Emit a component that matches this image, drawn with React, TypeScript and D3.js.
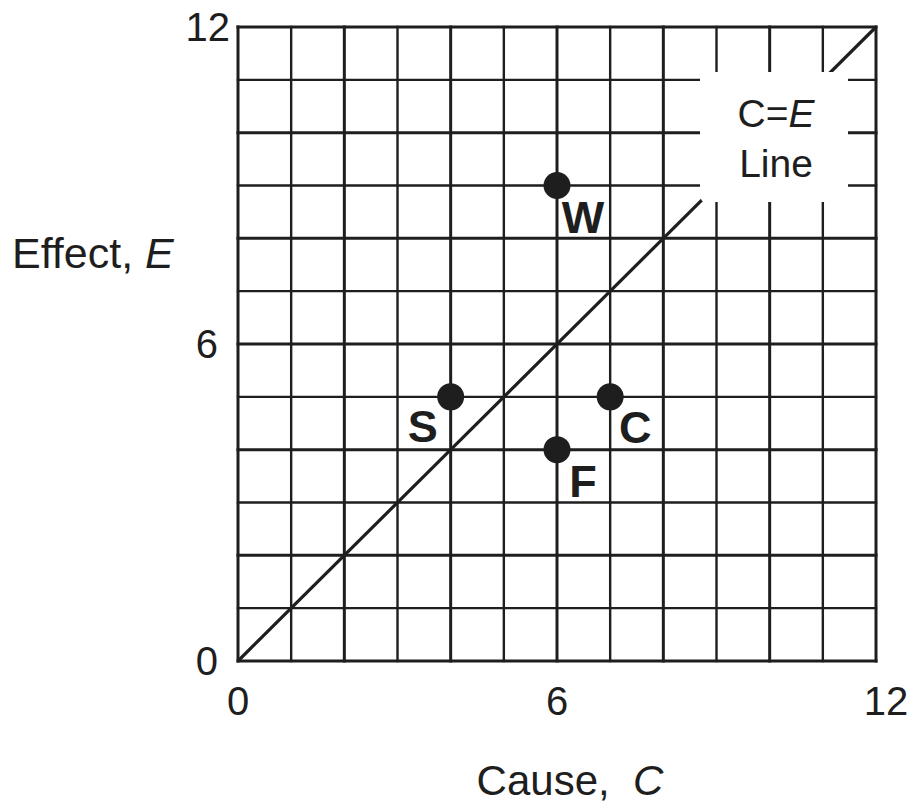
import React from "react";
import * as d3 from "d3";

const gridValues = d3.range(0, 13);
const xTickLabels = [0, 6, 12];
const yTickLabels = [0, 6, 12];
const pointNames = ["W", "S", "C", "F"];
const pointCause = [6, 4, 7, 6];
const pointEffect = [9, 5, 5, 4];
const lineStart = [0, 0];
const lineEnd = [12, 12];

const W = 916;
const H = 803;
const X0 = 238, X1 = 876, Y0 = 661, Y1 = 27;
const FONT = "'Liberation Sans', Arial, Helvetica, sans-serif";
const INK = "#1e1e1e";

// label offsets relative to point (dx, dy baseline)
const labelOffsets: Record<string, [number, number]> = {
  W: [26, 47],
  S: [-28, 45],
  C: [25, 46],
  F: [26, 47],
};

export default function App() {
  const x = d3.scaleLinear().domain([0, 12]).range([X0, X1]);
  const y = d3.scaleLinear().domain([0, 12]).range([Y0, Y1]);
  const line = d3.line<number[]>().x((d) => x(d[0])).y((d) => y(d[1]));

  return (
    <svg
      width={W}
      height={H}
      style={{ position: "absolute", left: 0, top: 0, background: "#fff" }}
      fontFamily={FONT}
    >
      <rect x={0} y={0} width={W} height={H} fill="#fff" />
      {/* grid */}
      {gridValues.map((v) => (
        <line
          key={"v" + v}
          x1={x(v)}
          x2={x(v)}
          y1={y(0)}
          y2={y(12)}
          stroke={INK}
          strokeWidth={v % 2 === 0 ? 3 : 2.4}
          strokeLinecap="square"
        />
      ))}
      {gridValues.map((v) => (
        <line
          key={"h" + v}
          x1={x(0)}
          x2={x(12)}
          y1={y(v)}
          y2={y(v)}
          stroke={INK}
          strokeWidth={v % 2 === 0 ? 3 : 2.4}
          strokeLinecap="square"
        />
      ))}
      {/* C=E line */}
      <path d={line([lineStart, lineEnd]) || ""} stroke={INK} strokeWidth={3.2} fill="none" />
      {/* label box */}
      <rect x={700} y={72} width={148} height={130} rx={6} fill="#fff" />
      <text x={776} y={127} textAnchor="middle" fontSize={39} fill={INK}>
        C=<tspan fontStyle="italic">E</tspan>
      </text>
      <text x={776} y={177} textAnchor="middle" fontSize={39} fill={INK}>
        Line
      </text>
      {/* points */}
      {pointNames.map((n, i) => (
        <g key={n}>
          <circle cx={x(pointCause[i])} cy={y(pointEffect[i])} r={13.5} fill={INK} />
          <text
            x={x(pointCause[i]) + labelOffsets[n][0]}
            y={y(pointEffect[i]) + labelOffsets[n][1]}
            textAnchor="middle"
            fontSize={45}
            fontWeight="bold"
            fill={INK}
          >
            {n}
          </text>
        </g>
      ))}
      {/* y tick labels */}
      {yTickLabels.map((v) => (
        <text key={"yt" + v} x={v === 12 ? 230 : 218} y={y(v) + 14} textAnchor="end" fontSize={40} fill={INK}>
          {v}
        </text>
      ))}
      {/* x tick labels */}
      {xTickLabels.map((v) => (
        <text key={"xt" + v} x={v === 12 ? x(v) + 10 : x(v)} y={715} textAnchor="middle" fontSize={40} fill={INK}>
          {v}
        </text>
      ))}
      {/* axis titles */}
      <text x={12} y={268} fontSize={43} fill={INK}>
        Effect, <tspan fontStyle="italic">E</tspan>
      </text>
      <text x={570} y={795} textAnchor="middle" fontSize={42} fill={INK} style={{ whiteSpace: "pre" }}>
        {"Cause,  "}<tspan fontStyle="italic">C</tspan>
      </text>
    </svg>
  );
}
